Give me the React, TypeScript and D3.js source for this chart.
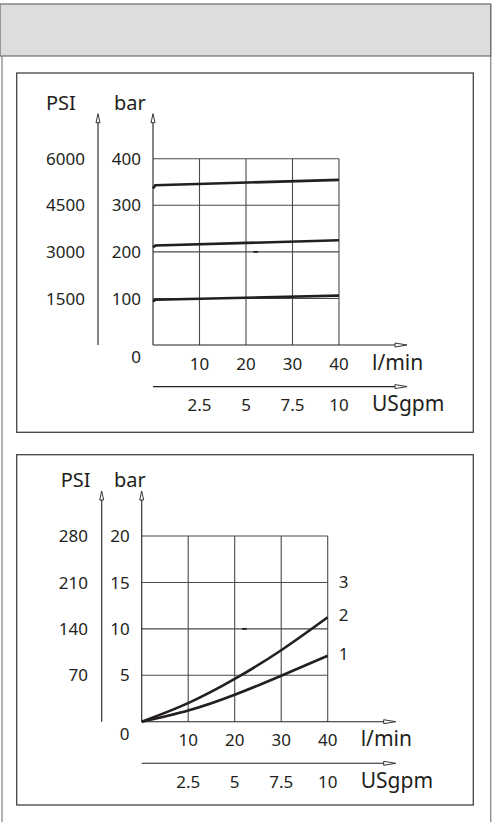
import * as d3 from "d3";

// flow ticks (l/min) and matching US gallons
const flowTicks = [10, 20, 30, 40];
const gpmTicks = ["2.5", "5", "7.5", "10"];

// chart 1: pressure relief settings
const bar1Ticks = [100, 200, 300, 400];
const psi1Ticks = ["1500", "3000", "4500", "6000"];
const relief100: [number, number][] = [[0, 93.5], [0.5, 97], [40, 106]];
const relief200: [number, number][] = [[0, 210], [0.5, 213.5], [40, 225]];
const relief300: [number, number][] = [[0, 336], [0.5, 343], [40, 354.6]];

// chart 2: pressure drop
const bar2Ticks = [5, 10, 15, 20];
const psi2Ticks = ["70", "140", "210", "280"];
const drop1: [number, number][] = [[0, 0], [10, 1.2], [20, 2.9], [30, 4.95], [40, 7.1]];
const drop2: [number, number][] = [[0, 0], [10, 2.0], [20, 4.6], [30, 7.7], [40, 11.25]];
const curveLabels = [
  { name: "1", value: 7.3 },
  { name: "2", value: 11.5 },
  { name: "3", value: 15.1 },
];

const ink = "#231f20";
const gridColor = "#4a4a4a";
const font = "'Noto Sans', sans-serif";

type ChartProps = {
  left: number;
  bottom: number;
  top: number;
  yMax: number;
  barTicks: number[];
  psiTicks: string[];
  curves: [number, number][][];
  smooth: boolean;
  psiAxisX: number;
  psiLabelX: number;
  psiTitleX: number;
  labels?: { name: string; value: number }[];
  markValue: number;
};

function Chart(p: ChartProps) {
  const x = d3.scaleLinear().domain([0, 40]).range([p.left, p.left + 186]);
  const y = d3.scaleLinear().domain([0, p.yMax]).range([p.bottom, p.top]);
  const line = d3
    .line<[number, number]>()
    .x((d) => x(d[0]))
    .y((d) => y(d[1]))
    .curve(p.smooth ? d3.curveNatural : d3.curveLinear);

  const x0 = x(0);
  const xEnd = x(40) + 68;
  const yTop = y(p.yMax) - 45;
  const gpmY = p.bottom + 41.6;

  const upArrow = (ax: number) =>
    `M${ax},${yTop} L${ax - 2},${yTop + 9} L${ax + 2},${yTop + 9} Z`;
  const rightArrow = (ay: number) =>
    `M${xEnd},${ay} L${xEnd - 12},${ay - 2} L${xEnd - 12},${ay + 2} Z`;

  return (
    <g fontFamily={font} fill={ink}>
      {/* grid */}
      {p.barTicks.map((t) => (
        <line key={"h" + t} x1={x0} x2={x(40)} y1={y(t)} y2={y(t)} stroke={gridColor} strokeWidth={1.1} />
      ))}
      {flowTicks.map((t) => (
        <line key={"v" + t} x1={x(t)} x2={x(t)} y1={p.bottom} y2={y(p.yMax)} stroke={gridColor} strokeWidth={1.1} />
      ))}
      <line x1={x(21.6)} x2={x(22.6)} y1={y(p.markValue)} y2={y(p.markValue)} stroke={ink} strokeWidth={1.8} />

      {/* axes */}
      <line x1={x0} x2={x0} y1={p.bottom} y2={yTop + 8} stroke={ink} strokeWidth={1.1} />
      <path d={upArrow(x0)} fill="#fff" stroke={ink} strokeWidth={0.9} />
      <line x1={p.psiAxisX} x2={p.psiAxisX} y1={p.bottom} y2={yTop + 8} stroke={ink} strokeWidth={1.1} />
      <path d={upArrow(p.psiAxisX)} fill="#fff" stroke={ink} strokeWidth={0.9} />
      <line x1={x0} x2={xEnd - 11} y1={p.bottom} y2={p.bottom} stroke={ink} strokeWidth={1.1} />
      <path d={rightArrow(p.bottom)} fill="#fff" stroke={ink} strokeWidth={0.9} />
      <line x1={x0} x2={xEnd - 11} y1={gpmY} y2={gpmY} stroke={ink} strokeWidth={1.1} />
      <path d={rightArrow(gpmY)} fill="#fff" stroke={ink} strokeWidth={0.9} />

      {/* curves */}
      {p.curves.map((c, i) => (
        <path key={i} d={line(c) ?? ""} fill="none" stroke={ink} strokeWidth={2.6} />
      ))}

      {/* labels */}
      <text x={p.psiTitleX} y={yTop - 4} fontSize={20}>PSI</text>
      <text x={114} y={yTop - 4} fontSize={20}>bar</text>
      {p.barTicks.map((t) => (
        <text key={"b" + t} x={x0 - 12} y={y(t)} dy="0.36em" fontSize={17} textAnchor="end">{t}</text>
      ))}
      {p.psiTicks.map((t, i) => (
        <text key={"p" + t} x={p.psiLabelX} y={y(p.barTicks[i])} dy="0.36em" fontSize={17} textAnchor="end">{t}</text>
      ))}
      <text x={x0 - 17} y={p.bottom + 18} fontSize={17} textAnchor="middle">0</text>
      {flowTicks.map((t) => (
        <text key={"f" + t} x={x(t)} y={p.bottom + 24.5} fontSize={17} textAnchor="middle">{t}</text>
      ))}
      {gpmTicks.map((t, i) => (
        <text key={"g" + t} x={x(flowTicks[i])} y={p.bottom + 66} fontSize={17} textAnchor="middle">{t}</text>
      ))}
      <text x={x(40) + 33} y={p.bottom + 24.5} fontSize={21}>l/min</text>
      <text x={x(40) + 33} y={p.bottom + 66} fontSize={21}>USgpm</text>
      {p.labels?.map((l) => (
        <text key={l.name} x={x(40) + 11} y={y(l.value)} dy="0.36em" fontSize={17}>{l.name}</text>
      ))}
    </g>
  );
}

export default function App() {
  return (
    <svg
      width={497}
      height={822}
      viewBox="0 0 497 822"
      style={{ position: "absolute", left: 0, top: 0, background: "#fff" }}
    >
      {/* outer frame */}
      <line x1={2} x2={2} y1={4} y2={822} stroke="#8a8a8a" strokeWidth={1.3} />
      <line x1={490.7} x2={490.7} y1={4} y2={822} stroke="#8a8a8a" strokeWidth={1.3} />
      <rect x={0} y={4} width={490.7} height={52} fill="#dcdddf" stroke="#6d6d6d" strokeWidth={1.2} />

      {/* chart boxes */}
      <rect x={16.7} y={73} width={456.6} height={359.3} fill="none" stroke="#444" strokeWidth={1.3} />
      <rect x={16.7} y={454.7} width={456.6} height={350.3} fill="none" stroke="#444" strokeWidth={1.3} />

      <Chart
        left={153}
        bottom={345}
        top={158.7}
        yMax={400}
        barTicks={bar1Ticks}
        psiTicks={psi1Ticks}
        curves={[relief100, relief200, relief300]}
        smooth={false}
        psiAxisX={98}
        psiLabelX={85}
        psiTitleX={46}
        markValue={200}
      />
      <Chart
        left={141.7}
        bottom={721.7}
        top={536}
        yMax={20}
        barTicks={bar2Ticks}
        psiTicks={psi2Ticks}
        curves={[drop1, drop2]}
        smooth={true}
        psiAxisX={101.7}
        psiLabelX={88}
        psiTitleX={60.7}
        labels={curveLabels}
        markValue={10}
      />
    </svg>
  );
}
